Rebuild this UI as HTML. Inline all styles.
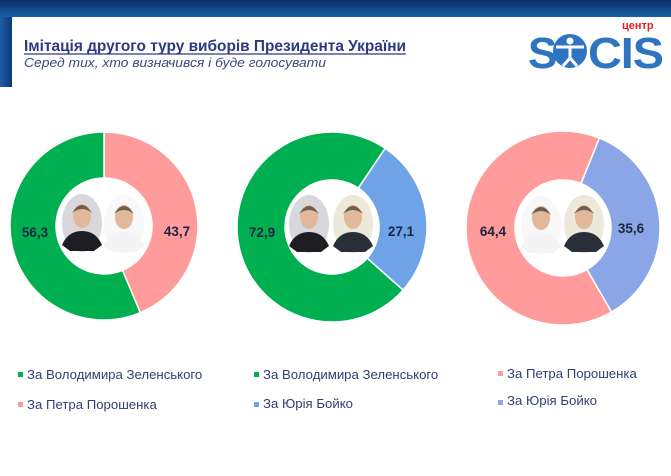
<!DOCTYPE html>
<html><head><meta charset="utf-8"><style>
body{margin:0;width:671px;height:476px;overflow:hidden;background:#fff;font-family:"Liberation Sans",sans-serif}
</style></head><body>
<svg id="s" width="671" height="476" xmlns="http://www.w3.org/2000/svg" style="position:absolute;left:0;top:0">
<defs>
<linearGradient id="hb" x1="0" y1="0" x2="0" y2="1"><stop offset="0" stop-color="#0a2f66"/><stop offset="1" stop-color="#1a5fa8"/></linearGradient>
<linearGradient id="lb" x1="0" y1="0" x2="1" y2="0"><stop offset="0" stop-color="#1f5ea8"/><stop offset="1" stop-color="#0b3a78"/></linearGradient>
</defs>
<rect x="0" y="0" width="671" height="17" fill="url(#hb)"/>
<rect x="0" y="17" width="12" height="70" fill="url(#lb)"/>
<text x="24" y="51" font-size="15.4" font-weight="bold" fill="#2b3a82" textLength="382" lengthAdjust="spacingAndGlyphs">Імітація другого туру виборів Президента України</text>
<line x1="24" y1="54" x2="406" y2="54" stroke="#2b3a82" stroke-width="1.2"/>
<text x="24" y="67" font-size="13" font-style="italic" fill="#3a4a7a" textLength="302" lengthAdjust="spacingAndGlyphs">Серед тих, хто визначився  і буде голосувати</text>
<text x="622" y="29" font-size="11" font-weight="bold" fill="#e02020">центр</text>
<text x="528" y="68" font-size="44" font-weight="bold" fill="#2f74c0" letter-spacing="-1">S</text>
<circle cx="570" cy="51" r="17" fill="#2f74c0"/>
<circle cx="570" cy="41" r="3.5" fill="#fff"/>
<path d="M556 47 L584 47 M570 46 L570 58 L563 66 M570 58 L577 66" stroke="#fff" stroke-width="3" fill="none"/>
<text x="588" y="68" font-size="44" font-weight="bold" fill="#2f74c0" letter-spacing="-1" textLength="75" lengthAdjust="spacingAndGlyphs">CIS</text>
<g id="charts"></g>
<g font-size="13.2" fill="#2f3f73">
<rect x="18" y="372" width="5" height="5" fill="#00b050"/><text x="27" y="379">За Володимира Зеленського</text>
<rect x="18" y="402" width="5" height="5" fill="#ff9b9b"/><text x="27" y="409">За Петра Порошенка</text>
<rect x="254" y="372" width="5" height="5" fill="#00b050"/><text x="263" y="379">За Володимира Зеленського</text>
<rect x="254" y="402" width="5" height="5" fill="#6fa3e8"/><text x="263" y="408">За Юрія Бойко</text>
<rect x="498" y="371" width="5" height="5" fill="#ff9b9b"/><text x="507" y="378">За Петра Порошенка</text>
<rect x="498" y="400" width="5" height="5" fill="#8aa6e6"/><text x="507" y="405">За Юрія Бойко</text>
</g>
</svg>
<script>
var g=document.getElementById('charts'),NS="http://www.w3.org/2000/svg";
function arc(cx,cy,R,r,a0,a1,col){
 function p(rad,a){a=a*Math.PI/180;return [cx+rad*Math.sin(a),cy-rad*Math.cos(a)];}
 var l=(a1-a0)>180?1:0,A=p(R,a0),B=p(R,a1),C=p(r,a1),D=p(r,a0);
 var e=document.createElementNS(NS,'path');
 e.setAttribute('d','M'+A+' A'+R+' '+R+' 0 '+l+' 1 '+B+' L'+C+' A'+r+' '+r+' 0 '+l+' 0 '+D+'Z');
 e.setAttribute('fill',col);e.setAttribute('stroke','#fff');e.setAttribute('stroke-width','1.5');g.appendChild(e);}
function txt(x,y,t){var e=document.createElementNS(NS,'text');e.setAttribute('x',x);e.setAttribute('y',y);e.setAttribute('font-size','13.5');e.setAttribute('font-weight','bold');e.setAttribute('fill','#1a2540');e.setAttribute('text-anchor','middle');e.textContent=t;g.appendChild(e);}
function face(cx,cy,dark,bg){
 var h='<ellipse cx="'+cx+'" cy="'+cy+'" rx="20" ry="29" fill="'+bg+'"/>'+
 '<path d="M'+(cx-20)+' '+(cy+22)+' Q'+(cx-14)+' '+(cy+8)+' '+cx+' '+(cy+8)+' Q'+(cx+14)+' '+(cy+8)+' '+(cx+20)+' '+(cy+22)+' L'+(cx+12)+' '+(cy+28)+' L'+(cx-12)+' '+(cy+28)+'Z" fill="'+dark+'"/>'+
 '<ellipse cx="'+cx+'" cy="'+(cy-7)+'" rx="9" ry="12" fill="#e2b89a"/>'+
 '<path d="M'+(cx-10)+' '+(cy-10)+' Q'+cx+' '+(cy-26)+' '+(cx+10)+' '+(cy-10)+' Q'+cx+' '+(cy-18)+' '+(cx-10)+' '+(cy-10)+'Z" fill="#6b6050"/>';
 g.insertAdjacentHTML('beforeend',h);}
arc(104,226,94,48,0,157.3,'#ff9b9b');arc(104,226,94,48,157.3,360,'#00b050');
txt(35,237,'56,3');txt(177,236,'43,7');
face(82,223,'#1e1e22','#d8d8dc');face(124,224,'#f4f4f4','#f8f8f8');
arc(332,227,95,47,34,131.6,'#6fa3e8');arc(332,227,95,47,131.6,394,'#00b050');
txt(262,237,'72,9');txt(401,236,'27,1');
face(309,224,'#1e1e22','#d8d8dc');face(353,224,'#2a2e38','#ece8da');
arc(563,228,97,48,22,150,'#8aa6e6');arc(563,228,97,48,150,382,'#ff9b9b');
txt(493,236,'64,4');txt(631,233,'35,6');
face(541,225,'#f4f4f4','#f8f8f8');face(584,224,'#2a2e38','#ece8da');
</script>
</body></html>
